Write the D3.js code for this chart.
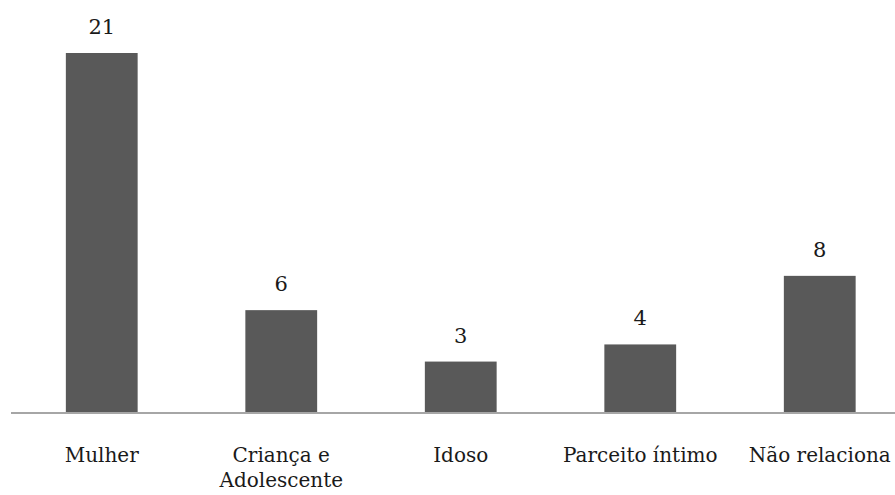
<!DOCTYPE html>
<html>
<head>
<meta charset="utf-8">
<script src="https://cdn.jsdelivr.net/npm/d3@7/dist/d3.min.js"></script>
<style>
  body { margin: 0; background: #fff; }
</style>
</head>
<body>
<svg id="chart" width="895" height="495"></svg>
<script>
// chart data
const categories = ['Mulher', 'Criança e Adolescente', 'Idoso', 'Parceito íntimo', 'Não relaciona'];
const labelLines = [['Mulher'], ['Criança e', 'Adolescente'], ['Idoso'], ['Parceito íntimo'], ['Não relaciona']];
const values = [21, 6, 3, 4, 8];

const svg = d3.select('#chart');
const baseY = 413;

const x = d3.scaleBand()
  .domain(categories)
  .range([12, 909.5])
  .paddingInner(0.6)
  .paddingOuter(0.3);

const y = d3.scaleLinear()
  .domain([0, 21])
  .range([baseY, 53]);

const serif = 'DejaVu Serif, Liberation Serif, serif';

// bars
svg.selectAll('rect.bar')
  .data(values)
  .join('rect')
  .attr('class', 'bar')
  .attr('x', (d, i) => x(categories[i]))
  .attr('y', d => y(d))
  .attr('width', x.bandwidth())
  .attr('height', d => baseY - y(d))
  .attr('fill', '#595959');

// baseline
svg.append('line')
  .attr('x1', 11).attr('x2', 895)
  .attr('y1', baseY).attr('y2', baseY)
  .attr('stroke', '#a6a6a6')
  .attr('stroke-width', 2);

// value labels
svg.selectAll('text.val')
  .data(values)
  .join('text')
  .attr('class', 'val')
  .attr('x', (d, i) => x(categories[i]) + x.bandwidth() / 2)
  .attr('y', d => y(d) - 19)
  .attr('text-anchor', 'middle')
  .attr('font-family', serif)
  .attr('font-size', 21)
  .attr('fill', '#1a1a1a')
  .text(d => d);

// category labels
const cat = svg.selectAll('text.cat')
  .data(labelLines)
  .join('text')
  .attr('class', 'cat')
  .attr('x', (d, i) => x(categories[i]) + x.bandwidth() / 2)
  .attr('y', 462)
  .attr('text-anchor', 'middle')
  .attr('font-family', serif)
  .attr('font-size', 20)
  .attr('fill', '#1a1a1a');

cat.selectAll('tspan')
  .data(d => d)
  .join('tspan')
  .attr('x', function () { return d3.select(this.parentNode).attr('x'); })
  .attr('dy', (d, i) => i === 0 ? 0 : 25)
  .text(d => d);
</script>
</body>
</html>
